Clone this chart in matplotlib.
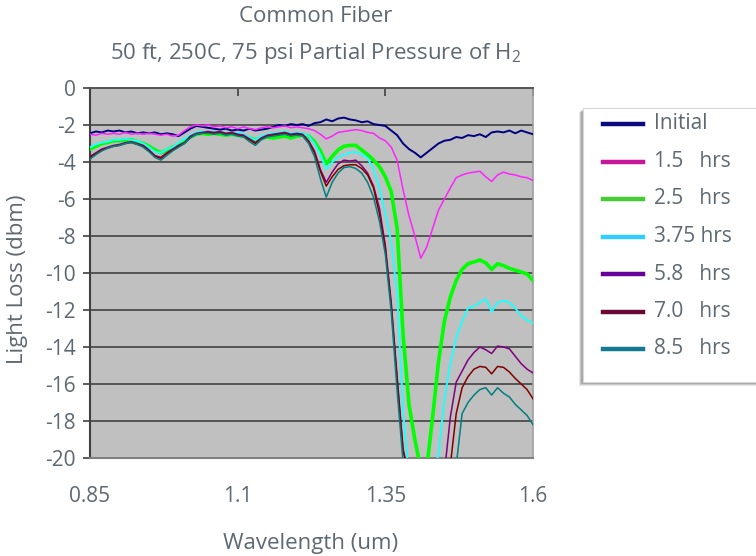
import numpy as np
import matplotlib
matplotlib.use("Agg")
import matplotlib.pyplot as plt
from matplotlib.patches import Rectangle
from matplotlib.lines import Line2D

plt.rcParams['font.family'] = ['Open Sans', 'DejaVu Sans']
plt.rcParams['mathtext.fontset'] = 'custom'
plt.rcParams['mathtext.rm'] = 'Open Sans'

TEXT = '#5d6872'

# wavelength grid (um), 0.85 .. 1.60 every 0.01
wavelength = np.round(np.arange(0.85, 1.6001, 0.01), 2)

initial = [
    -2.45, -2.35, -2.40, -2.30, -2.35, -2.30, -2.40, -2.35, -2.45, -2.40,
    -2.45, -2.40, -2.50, -2.45, -2.50, -2.60, -2.40, -2.20, -2.05, -2.10,
    -2.15, -2.20, -2.25, -2.20, -2.30, -2.25, -2.30, -2.20, -2.30, -2.25,
    -2.20, -2.10, -2.00, -2.05, -1.95, -2.00, -1.95, -2.05, -1.90, -1.85,
    -1.70, -1.80, -1.65, -1.60, -1.70, -1.75, -1.85, -1.80, -1.95, -2.00,
    -2.05, -2.30, -2.55, -3.00, -3.30, -3.50, -3.75, -3.50, -3.25, -3.00,
    -2.85, -2.80, -2.65, -2.70, -2.55, -2.60, -2.50, -2.65, -2.40, -2.35,
    -2.40, -2.30, -2.45, -2.30, -2.40, -2.50]
hrs_1_5 = [
    -2.50, -2.55, -2.45, -2.50, -2.45, -2.50, -2.40, -2.50, -2.45, -2.50,
    -2.45, -2.50, -2.55, -2.50, -2.60, -2.55, -2.30, -2.10, -2.00, -2.05,
    -2.00, -2.10, -2.05, -2.15, -2.10, -2.20, -2.10, -2.20, -2.25, -2.15,
    -2.10, -2.15, -2.10, -2.05, -2.15, -2.10, -2.15, -2.20, -2.30, -2.50,
    -2.75, -2.60, -2.40, -2.35, -2.30, -2.25, -2.30, -2.40, -2.45, -2.70,
    -2.85, -3.20, -3.90, -5.50, -6.90, -8.00, -9.20, -8.60, -7.60, -6.60,
    -6.00, -5.40, -4.85, -4.70, -4.60, -4.55, -4.50, -4.80, -5.05, -4.70,
    -4.55, -4.65, -4.70, -4.80, -4.85, -5.00]
hrs_2_5 = [
    -3.30, -3.15, -3.00, -2.95, -2.85, -2.85, -2.80, -2.80, -2.90, -3.00,
    -3.15, -3.35, -3.50, -3.35, -3.20, -3.05, -2.85, -2.65, -2.50, -2.45,
    -2.50, -2.45, -2.50, -2.55, -2.50, -2.55, -2.60, -2.70, -2.80, -2.70,
    -2.65, -2.70, -2.65, -2.60, -2.70, -2.60, -2.55, -2.60, -2.90, -3.40,
    -4.10, -3.70, -3.35, -3.15, -3.10, -3.10, -3.35, -3.60, -3.90, -4.25,
    -4.80, -5.60, -7.60, -13.30, -17.10, -19.00, -20.60, -20.60, -17.80, -14.80,
    -12.60, -11.30, -10.40, -9.80, -9.50, -9.40, -9.30, -9.45, -9.80, -9.50,
    -9.60, -9.75, -9.85, -9.95, -10.05, -10.40]
hrs_3_75 = [
    -3.20, -3.05, -2.95, -2.90, -2.80, -2.80, -2.75, -2.80, -2.85, -3.00,
    -3.20, -3.45, -3.50, -3.30, -3.20, -2.95, -2.75, -2.55, -2.40, -2.35,
    -2.40, -2.35, -2.45, -2.40, -2.50, -2.40, -2.50, -2.65, -2.80, -2.60,
    -2.50, -2.45, -2.40, -2.35, -2.45, -2.40, -2.45, -2.60, -3.00, -3.60,
    -4.40, -4.00, -3.75, -3.60, -3.50, -3.45, -3.60, -3.80, -4.40, -5.40,
    -6.80, -8.30, -11.20, -17.50, -21.00, -21.00, -21.00, -21.00, -21.00, -19.80,
    -16.80, -14.90, -13.50, -12.60, -11.90, -11.80, -11.60, -11.40, -12.10, -11.60,
    -11.50, -11.60, -11.90, -12.30, -12.55, -12.70]
hrs_5_8 = [
    -3.70, -3.50, -3.30, -3.20, -3.10, -3.05, -2.95, -2.90, -3.00, -3.10,
    -3.35, -3.65, -3.75, -3.50, -3.30, -3.10, -2.95, -2.60, -2.45, -2.40,
    -2.35, -2.40, -2.35, -2.45, -2.40, -2.50, -2.55, -2.75, -2.95, -2.70,
    -2.55, -2.50, -2.45, -2.40, -2.50, -2.45, -2.50, -2.85, -3.40, -4.40,
    -5.10, -4.55, -4.10, -3.90, -3.95, -3.90, -4.20, -4.60, -5.30, -6.50,
    -8.50, -11.60, -15.60, -19.50, -21.00, -21.00, -21.00, -21.00, -21.00, -21.00,
    -20.80, -17.80, -15.90, -15.30, -14.70, -14.30, -14.00, -14.15, -14.35, -13.95,
    -14.00, -14.10, -14.50, -14.90, -15.20, -15.40]
hrs_7_0 = [
    -3.75, -3.55, -3.35, -3.25, -3.15, -3.10, -3.00, -2.95, -3.05, -3.15,
    -3.40, -3.70, -3.80, -3.55, -3.35, -3.15, -3.00, -2.65, -2.50, -2.45,
    -2.40, -2.45, -2.40, -2.50, -2.45, -2.55, -2.60, -2.80, -3.00, -2.75,
    -2.60, -2.55, -2.50, -2.45, -2.55, -2.50, -2.55, -2.90, -3.50, -4.50,
    -5.30, -4.80, -4.40, -4.20, -4.15, -4.15, -4.35, -4.70, -5.40, -6.80,
    -8.70, -11.80, -15.80, -19.60, -21.00, -21.00, -21.00, -21.00, -21.00, -21.00,
    -21.00, -20.40, -17.60, -16.20, -15.60, -15.20, -15.05, -15.10, -15.45, -15.05,
    -15.10, -15.35, -15.70, -16.00, -16.30, -16.80]
hrs_8_5 = [
    -3.85, -3.60, -3.40, -3.25, -3.15, -3.10, -3.00, -2.95, -3.05, -3.20,
    -3.45, -3.75, -3.90, -3.65, -3.40, -3.20, -3.00, -2.70, -2.50, -2.45,
    -2.45, -2.50, -2.45, -2.55, -2.50, -2.60, -2.65, -2.90, -3.10, -2.80,
    -2.65, -2.60, -2.55, -2.50, -2.60, -2.55, -2.60, -3.00, -3.70, -4.90,
    -5.90, -5.10, -4.60, -4.30, -4.25, -4.35, -4.60, -5.10, -5.90, -7.20,
    -9.00, -12.10, -16.40, -20.20, -21.00, -21.00, -21.00, -21.00, -21.00, -21.00,
    -21.00, -21.00, -20.40, -17.60, -17.00, -16.60, -16.30, -16.20, -16.60, -16.20,
    -16.50, -16.70, -17.10, -17.40, -17.70, -18.20]

series = [initial, hrs_1_5, hrs_2_5, hrs_3_75, hrs_5_8, hrs_7_0, hrs_8_5]
labels = ['Initial', '1.5   hrs', '2.5   hrs', '3.75 hrs', '5.8   hrs', '7.0   hrs', '8.5   hrs']
line_colors = ['#000080', '#ff22ff', '#00ff00', '#22ffff', '#800080', '#800000', '#008080']
line_widths = [1.4, 1.1, 2.6, 1.4, 1.1, 1.1, 1.1]
legend_colors = ['#0b0b80', '#c8169b', '#44cc33', '#33ccff', '#660099', '#6a0838', '#137a94']

x_ticks = [0.85, 1.1, 1.35, 1.6]
y_ticks = list(range(-20, 1, 2))

fig = plt.figure(figsize=(7.56, 5.56), dpi=100)
ax = fig.add_axes([90 / 756, 1 - 458 / 556, 443 / 756, 370 / 556])
ax.set_facecolor('#c0c0c0')

for vals, c, lw in zip(series, line_colors, line_widths):
    ax.plot(wavelength, vals, color=c, lw=lw, zorder=3)

ax.set_xlim(0.85, 1.6)
ax.set_ylim(-20, 0)
ax.set_yticks(y_ticks)
ax.set_yticklabels([str(v) for v in y_ticks])
ax.set_xticks(x_ticks)
ax.set_xticklabels(['0.85', '1.1', '1.35', '1.6'])
ax.yaxis.grid(True, color='#555555', lw=1.4, zorder=1)
ax.set_axisbelow(True)

ax.tick_params(axis='y', length=5, width=1.2, color='#404040', pad=5,
               labelsize=15, labelcolor=TEXT)
ax.tick_params(axis='x', bottom=False, top=True, direction='in', length=6,
               width=1.2, color='#404040', pad=20, labelsize=15, labelcolor=TEXT)

ax.spines['left'].set_color('#404040')
ax.spines['left'].set_linewidth(1.5)
ax.spines['top'].set_color('#555555')
ax.spines['top'].set_linewidth(1.4)
ax.spines['bottom'].set_color('#808080')
ax.spines['bottom'].set_linewidth(1.5)
ax.spines['right'].set_color('#a0a0a0')
ax.spines['right'].set_linewidth(1.2)

# titles and axis labels
fig.text(316 / 756, 1 - 17 / 556, 'Common Fiber', ha='center', va='center',
         fontsize=16, color=TEXT)
fig.text(316 / 756, 1 - 53 / 556, r'50 ft, 250C, 75 psi Partial Pressure of H$_{\mathregular{2}}$',
         ha='center', va='center', fontsize=16, color=TEXT)
fig.text(311 / 756, 1 - 543 / 556, 'Wavelength (um)', ha='center', va='center',
         fontsize=16, color=TEXT)
fig.text(18 / 756, 1 - 279 / 556, 'Light Loss (dbm)', ha='center', va='center',
         rotation=90, fontsize=16, color=TEXT)

# legend box with soft shadow
bx0, by0, bx1, by1 = 583, 108, 760, 382
for k, a in enumerate([0.10, 0.12, 0.16]):
    off = 4 - k
    fig.patches.append(Rectangle(((bx0 - off) / 756, 1 - (by1 + off) / 556),
                                 (bx1 - bx0) / 756, (by1 - by0) / 556,
                                 transform=fig.transFigure, facecolor='black',
                                 alpha=a, edgecolor='none', zorder=1))
fig.patches.append(Rectangle((bx0 / 756, 1 - by1 / 556), (bx1 - bx0) / 756,
                             (by1 - by0) / 556, transform=fig.transFigure,
                             facecolor='white', edgecolor='#d8d8d8', lw=0.8, zorder=2))

for i, (lab, c) in enumerate(zip(labels, legend_colors)):
    yy = 1 - (124 + 37.5 * i) / 556
    fig.add_artist(Line2D([603 / 756, 643 / 756], [yy, yy], color=c, lw=3.2,
                          transform=fig.transFigure, zorder=3))
    fig.text(654 / 756, yy, lab, ha='left', va='center', fontsize=15,
             color=TEXT, zorder=3)

fig.savefig('out.png', dpi=100)
